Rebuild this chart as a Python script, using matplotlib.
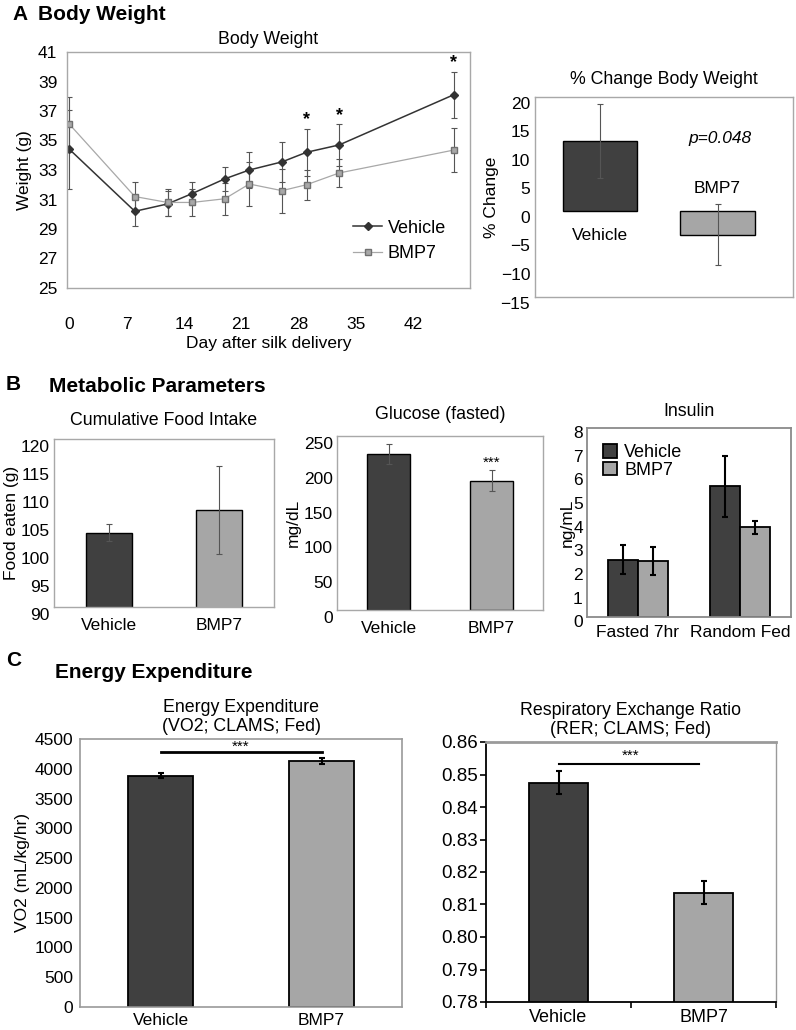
import numpy as np
import matplotlib
matplotlib.use("Agg")
import matplotlib.pyplot as plt
from matplotlib.transforms import ScaledTranslation

plt.rcParams['font.family'] = ['Liberation Sans', 'DejaVu Sans']
plt.rcParams['font.size'] = 12.5

# ---- data ----
days = [0, 8, 12, 15, 19, 22, 26, 29, 33, 47]
veh_weight = [34.4, 30.2, 30.7, 31.4, 32.4, 33.0, 33.55, 34.2, 34.7, 38.1]
veh_weight_err = [2.7, 1.0, 0.85, 0.8, 0.8, 1.2, 1.35, 1.6, 1.4, 1.55]
bmp_weight = [36.1, 31.2, 30.8, 30.8, 31.05, 32.05, 31.6, 32.0, 32.8, 34.35]
bmp_weight_err = [1.85, 1.0, 0.9, 0.9, 1.1, 1.5, 1.5, 1.0, 0.95, 1.5]
weight_sig_days = [29, 33, 47]

groups = ["Vehicle", "BMP7"]
pct_change = [12.3, -4.1]
pct_change_err = [6.4, 5.3]

food = [103.3, 107.3]
food_err = [1.5, 7.9]

glucose = [224, 186]
glucose_err = [14, 15]

insulin_cats = ["Fasted 7hr", "Random Fed"]
insulin_veh = [2.43, 5.53]
insulin_veh_err = [0.6, 1.3]
insulin_bmp = [2.36, 3.79]
insulin_bmp_err = [0.6, 0.28]

vo2 = [3883, 4124]
vo2_err = [40, 50]

rer = [0.8475, 0.8136]
rer_err = [0.0036, 0.0035]

DARK = "#404040"
LIGHT = "#a6a6a6"
FRAME = "#a8a8a8"
TITLE_FS = 12.8
HEAD_FS = 15

W, H = 796, 1030
fig = plt.figure(figsize=(W / 100, H / 100), dpi=100)


def box(x0, y0, x1, y1):
    return fig.add_axes([x0 / W, 1 - y1 / H, (x1 - x0) / W, (y1 - y0) / H])


def excel_frame(ax, color=FRAME, lw=1.0):
    for s in ax.spines.values():
        s.set_color(color)
        s.set_linewidth(lw)
    ax.tick_params(length=0)


def shift_ylabels(ax, pts):
    off = ScaledTranslation(0, -pts / 72, fig.dpi_scale_trans)
    for lab in ax.get_yticklabels():
        lab.set_transform(lab.get_transform() + off)


ebar_thin = dict(ecolor="#555555", elinewidth=0.8, capsize=2, capthick=0.8)
ebar_bold = dict(ecolor="black", elinewidth=1.5, capsize=2.5, capthick=1.5)

# ---- panel headers ----
fig.text(12 / W, 1 - 15 / H, "A", fontsize=HEAD_FS, fontweight="bold", va="center")
fig.text(38 / W, 1 - 14 / H, "Body Weight", fontsize=HEAD_FS, fontweight="bold", va="center")
fig.text(6 / W, 1 - 384 / H, "B", fontsize=HEAD_FS, fontweight="bold", va="center")
fig.text(49 / W, 1 - 386 / H, "Metabolic Parameters", fontsize=HEAD_FS, fontweight="bold", va="center")
fig.text(6 / W, 1 - 661 / H, "C", fontsize=HEAD_FS, fontweight="bold", va="center")
fig.text(55 / W, 1 - 672 / H, "Energy Expenditure", fontsize=HEAD_FS, fontweight="bold", va="center")

# ---- A: body weight line chart ----
ax = box(67, 52, 470, 288)
excel_frame(ax)
ax.errorbar(days, veh_weight, yerr=veh_weight_err, fmt="none", **ebar_thin)
ax.errorbar(days, bmp_weight, yerr=bmp_weight_err, fmt="none", **ebar_thin)
ax.plot(days, veh_weight, color="#333333", lw=1.1, marker="D", ms=4.5,
        mfc="#333333", mec="#333333", label="Vehicle")
ax.plot(days, bmp_weight, color="#a8a8a8", lw=0.9, marker="s", ms=4.5,
        mfc="#a8a8a8", mec="#707070", label="BMP7")
for d in weight_sig_days:
    i = days.index(d)
    ax.text(d, veh_weight[i] + veh_weight_err[i] + 0.6, "*", ha="center", va="center",
            fontsize=13, fontweight="bold")
ax.set_xlim(-0.3, 49)
ax.set_ylim(25, 41)
ax.set_yticks(np.arange(25, 42, 2))
ax.set_xticks(np.arange(0, 43, 7))
ax.tick_params(axis="x", pad=21)
ax.tick_params(axis="y", pad=7)
ax.set_ylabel("Weight (g)", labelpad=4)
ax.set_xlabel("Day after silk delivery", labelpad=3)
ax.set_title("Body Weight", fontsize=TITLE_FS, pad=6)
ax.legend(loc="center left", bbox_to_anchor=(0.67, 0.2), frameon=False,
          handlelength=1.6, handletextpad=0.3, labelspacing=0.45, fontsize=13)

# ---- A: % change ----
ax = box(535, 97, 793, 297)
excel_frame(ax)
xb = np.arange(len(groups))
ax.bar(xb, pct_change, width=0.63, color=[DARK, LIGHT], edgecolor="black", lw=1.0)
ax.errorbar(xb, pct_change, yerr=pct_change_err, fmt="none", **ebar_thin)
ax.text(xb[0], -4.3, groups[0], ha="center", va="center", fontsize=12.5)
ax.text(xb[1], 4.0, groups[1], ha="center", va="center", fontsize=12.5)
ax.text(xb[1] + 0.02, 12.7, "p=0.048", ha="center", va="center", fontsize=12.5, style="italic")
ax.set_xlim(-0.55, 1.64)
ax.set_ylim(-15, 20)
ax.set_yticks(np.arange(-15, 21, 5))
ax.set_xticks([])
ax.set_ylabel("% Change", labelpad=1)
ax.set_title("% Change Body Weight", fontsize=TITLE_FS, pad=9)
shift_ylabels(ax, 4)

# ---- B: food intake ----
ax = box(54, 439, 274, 607)
excel_frame(ax)
ax.bar(xb, food, width=0.41, color=[DARK, LIGHT], edgecolor="black", lw=1.0)
ax.errorbar(xb, food, yerr=food_err, fmt="none", **ebar_thin)
ax.set_xlim(-0.5, 1.5)
ax.set_ylim(90, 120)
ax.set_yticks(np.arange(90, 121, 5))
ax.set_xticks(xb)
ax.set_xticklabels(groups)
ax.tick_params(axis="x", pad=8)
ax.tick_params(axis="y", pad=3)
ax.set_ylabel("Food eaten (g)", labelpad=1)
ax.set_title("Cumulative Food Intake", fontsize=TITLE_FS, pad=10)
shift_ylabels(ax, 5)

# ---- B: glucose ----
ax = box(337, 436, 543, 610)
excel_frame(ax)
ax.bar(xb, glucose, width=0.41, color=[DARK, LIGHT], edgecolor="black", lw=1.0)
ax.errorbar(xb, glucose, yerr=glucose_err, fmt="none", **ebar_thin)
ax.text(xb[1], glucose[1] + glucose_err[1] + 11, "***", ha="center", va="center", fontsize=11)
ax.set_xlim(-0.5, 1.5)
ax.set_ylim(0, 250)
ax.set_yticks(np.arange(0, 251, 50))
ax.set_xticks(xb)
ax.set_xticklabels(groups)
ax.tick_params(axis="x", pad=8)
ax.tick_params(axis="y", pad=3)
ax.set_ylabel("mg/dL", labelpad=2)
ax.set_title("Glucose (fasted)", fontsize=TITLE_FS, pad=12)
shift_ylabels(ax, 5)

# ---- B: insulin ----
ax = box(587, 428, 791, 617)
excel_frame(ax, color="#8a8a8a", lw=1.3)
xi = np.arange(len(insulin_cats))
bw = 0.29
ax.bar(xi - bw / 2, insulin_veh, width=bw, color=DARK, edgecolor="black", lw=1.3, label="Vehicle")
ax.bar(xi + bw / 2, insulin_bmp, width=bw, color=LIGHT, edgecolor="black", lw=1.3, label="BMP7")
ax.errorbar(xi - bw / 2, insulin_veh, yerr=insulin_veh_err, fmt="none", **ebar_bold)
ax.errorbar(xi + bw / 2, insulin_bmp, yerr=insulin_bmp_err, fmt="none", **ebar_bold)
ax.set_xlim(-0.5, 1.5)
ax.set_ylim(0, 8)
ax.set_yticks(np.arange(0, 9, 1))
ax.set_xticks(xi)
ax.set_xticklabels(insulin_cats)
ax.tick_params(axis="x", pad=6)
ax.tick_params(axis="y", pad=3)
ax.set_ylabel("ng/mL", labelpad=-1)
ax.set_title("Insulin", fontsize=TITLE_FS, pad=9)
ax.legend(loc="upper left", bbox_to_anchor=(0.0, 1.0), frameon=False, fontsize=13,
          handlelength=0.75, handleheight=0.75, handletextpad=0.4, labelspacing=0.05,
          borderpad=0.4)
shift_ylabels(ax, 3)

# ---- C: VO2 ----
ax = box(80, 739, 402, 1007)
excel_frame(ax, color="#9a9a9a", lw=1.2)
ax.bar(xb, vo2, width=0.4, color=[DARK, LIGHT], edgecolor="black", lw=1.3)
ax.errorbar(xb, vo2, yerr=vo2_err, fmt="none", **ebar_bold)
sig_y = max(v + e for v, e in zip(vo2, vo2_err)) + 110
ax.plot([xb[0], xb[1]], [sig_y, sig_y], color="black", lw=2)
ax.text(0.5, sig_y + 90, "***", ha="center", va="center", fontsize=11)
ax.set_xlim(-0.5, 1.5)
ax.set_ylim(0, 4500)
ax.set_yticks(np.arange(0, 4501, 500))
ax.set_xticks(xb)
ax.set_xticklabels(groups)
ax.tick_params(axis="x", pad=4)
ax.tick_params(axis="y", pad=5)
ax.set_ylabel("VO2 (mL/kg/hr)", labelpad=3)
ax.set_title("Energy Expenditure\n(VO2; CLAMS; Fed)", fontsize=TITLE_FS, pad=6, linespacing=1.15)

# ---- C: RER ----
ax = box(486, 742, 776, 1002)
for s in ["top", "right"]:
    ax.spines[s].set_color("#9a9a9a")
ax.spines["top"].set_linewidth(2)
ax.spines["right"].set_linewidth(1)
ax.spines["left"].set_linewidth(1.3)
ax.spines["bottom"].set_linewidth(1.3)
ax.bar(xb, rer, width=0.41, color=[DARK, LIGHT], edgecolor="black", lw=1.3)
ax.errorbar(xb, rer, yerr=rer_err, fmt="none", **ebar_bold)
sig_y = max(v + e for v, e in zip(rer, rer_err)) + 0.0022
ax.plot([xb[0], xb[1] - 0.03], [sig_y, sig_y], color="black", lw=1.5)
ax.text(0.5, sig_y + 0.0024, "***", ha="center", va="center", fontsize=11)
ax.set_xlim(-0.5, 1.5)
ax.set_ylim(0.78, 0.86)
ax.set_yticks(np.round(np.arange(0.78, 0.861, 0.01), 2))
ax.yaxis.set_major_formatter(matplotlib.ticker.FormatStrFormatter("%.2f"))
ax.set_xticks([-0.5, 0.5, 1.5], minor=False)
ax.set_xticklabels([])
ax.set_xticks(xb, minor=True)
ax.set_xticklabels(groups, minor=True)
ax.tick_params(axis="x", which="major", direction="out", length=4, width=1.2)
ax.tick_params(axis="x", which="minor", length=0, pad=5, labelsize=13)
ax.tick_params(axis="y", direction="out", length=4, width=1.2, pad=2, labelsize=13.5)
ax.set_title("Respiratory Exchange Ratio\n(RER; CLAMS; Fed)", fontsize=TITLE_FS, pad=6, linespacing=1.15)

fig.savefig("out.png", dpi=100)
